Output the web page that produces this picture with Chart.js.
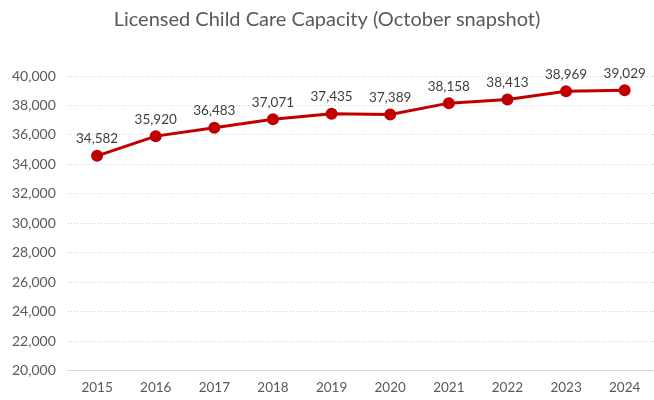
<!DOCTYPE html>
<html>
<head>
<meta charset="utf-8">
<script src="https://cdn.jsdelivr.net/npm/chart.js@4"></script>
<style>
  html, body { margin: 0; padding: 0; background: #fff; overflow: hidden; }
  #wrap { width: 654px; height: 400px; position: relative; }
  canvas { display: block; }
</style>
</head>
<body>
<div id="wrap"><canvas id="capacityChart"></canvas></div>
<script>
// Licensed capacity by year (October snapshot)
const years = ['2015', '2016', '2017', '2018', '2019', '2020', '2021', '2022', '2023', '2024'];
const capacity = [34582, 35920, 36483, 37071, 37435, 37389, 38158, 38413, 38969, 39029];
const yTicks = [20000, 22000, 24000, 26000, 28000, 30000, 32000, 34000, 36000, 38000, 40000];

const FONT = 'Lato, "Open Sans", sans-serif';
const GREY = '#595959';

// Draws the value above each point
const valueLabels = {
  id: 'valueLabels',
  afterDatasetsDraw(chart) {
    const ctx = chart.ctx;
    const meta = chart.getDatasetMeta(0);
    ctx.save();
    ctx.font = '13.5px ' + FONT;
    ctx.fillStyle = '#404040';
    ctx.textAlign = 'center';
    ctx.textBaseline = 'bottom';
    meta.data.forEach((pt, i) => {
      ctx.fillText(capacity[i].toLocaleString('en-US'), pt.x, pt.y - 10);
    });
    ctx.restore();
  }
};

new Chart(document.getElementById('capacityChart'), {
  type: 'line',
  data: {
    labels: years,
    datasets: [{
      data: capacity,
      borderColor: '#C00000',
      backgroundColor: '#C00000',
      borderWidth: 3,
      pointRadius: 4.5,
      pointHoverRadius: 4.5,
      tension: 0
    }]
  },
  options: {
    responsive: true,
    maintainAspectRatio: false,
    animation: false,
    layout: { autoPadding: false, padding: { left: 0, right: 0, top: 4, bottom: -5 } },
    plugins: {
      legend: { display: false },
      tooltip: { enabled: false },
      title: {
        display: true,
        text: 'Licensed Child Care Capacity (October snapshot)',
        color: GREY,
        font: { family: FONT, size: 20, weight: 'normal' },
        padding: { top: 4, bottom: 44 }
      }
    },
    scales: {
      x: {
        offset: true,
        grid: { display: false, drawTicks: false },
        border: { color: '#d9d9d9' },
        ticks: { color: GREY, font: { family: FONT, size: 13.5 }, padding: 9 },
        // let the plot run to the right edge
        afterFit(axis) {
          axis.paddingLeft = 0;
          axis.paddingRight = 0;
        }
      },
      y: {
        min: 20000,
        max: 40000,
        afterBuildTicks(axis) {
          axis.ticks = yTicks.map(v => ({ value: v }));
        },
        border: { display: true, color: 'rgba(0,0,0,0)', dash: [1, 2] },
        grid: { color: '#d0d0d0', drawTicks: false },
        ticks: {
          color: GREY,
          font: { family: FONT, size: 14 },
          padding: 12,
          callback: v => v.toLocaleString('en-US')
        }
      }
    }
  },
  plugins: [valueLabels]
});
</script>
</body>
</html>
